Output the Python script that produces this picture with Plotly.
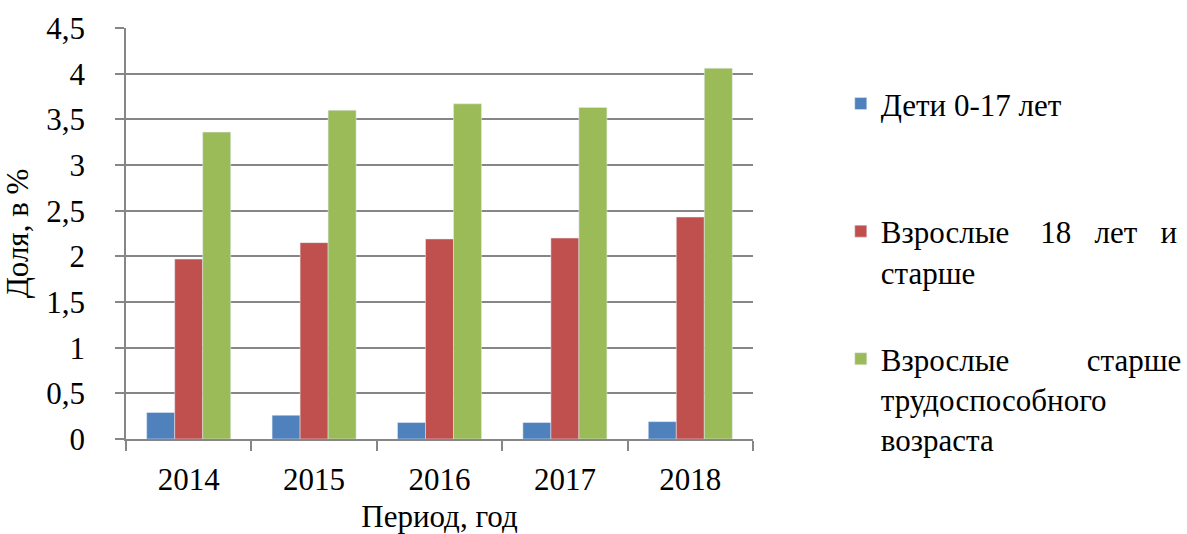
import plotly.graph_objects as go

years = ["2014", "2015", "2016", "2017", "2018"]
children = [0.29, 0.26, 0.18, 0.18, 0.19]
adults18 = [1.97, 2.15, 2.19, 2.20, 2.43]
elderly = [3.36, 3.60, 3.67, 3.63, 4.06]

S = "\u00a0"
names = [
    "Дети 0-17 лет<br> ",
    "Взрослые" + S * 4 + "18" + S * 3 + "лет" + S * 3 + "и<br>старше",
    "Взрослые" + S * 10 + "старше<br>трудоспособного<br>возраста",
]
colors = ["#4F81BD", "#C0504D", "#9BBB59"]
series = [children, adults18, elderly]

fig = go.Figure()
for i, (nm, vals, col) in enumerate(zip(names, series, colors)):
    fig.add_trace(go.Bar(x=years, y=vals, name=nm, marker_color=col,
                         legendgroup=f"g{i}"))

ff = "Liberation Serif"
FS = 31
fig.update_layout(
    width=1187, height=534,
    margin=dict(l=126, r=434, t=28, b=95, autoexpand=False),
    paper_bgcolor="white", plot_bgcolor="white",
    barmode="group", bargap=0.33, bargroupgap=0,
    font=dict(family=ff, size=FS, color="black"),
    showlegend=True,
    legend=dict(x=1.140, y=0.881, xanchor="left", yanchor="top",
                valign="top", tracegroupgap=44,
                font=dict(family=ff, size=FS, color="black")),
    xaxis=dict(
        title=dict(text="Период, год", standoff=12,
                   font=dict(family=ff, size=FS)),
        showline=True, linecolor="#868686", linewidth=1.5,
        ticks="outside", ticklen=10, tickcolor="#868686", tickwidth=1.5,
        tickson="boundaries", showgrid=False,
        ticklabelstandoff=12,
        tickfont=dict(family=ff, size=FS),
        automargin=False,
    ),
    yaxis=dict(
        title=dict(text="Доля, в %", standoff=8,
                   font=dict(family=ff, size=FS)),
        range=[0, 4.5],
        showline=True, linecolor="#868686", linewidth=1.5,
        ticks="outside", ticklen=9, tickcolor="#868686", tickwidth=1.5,
        showgrid=True, gridcolor="#868686", gridwidth=1.5,
        zeroline=False,
        ticklabelstandoff=24,
        tickvals=[0, 0.5, 1, 1.5, 2, 2.5, 3, 3.5, 4, 4.5],
        ticktext=["0", "0,5", "1", "1,5", "2", "2,5", "3", "3,5", "4", "4,5"],
        tickfont=dict(family=ff, size=FS),
        automargin=False,
    ),
)
fig.write_html("out.html", config={"displayModeBar": False},
               post_script="document.body.style.margin='0';document.body.style.padding='0';")
